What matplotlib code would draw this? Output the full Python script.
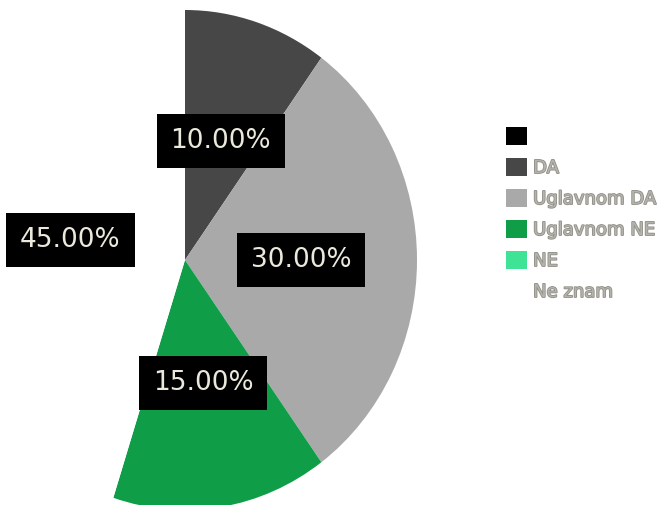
import matplotlib
matplotlib.use('Agg')
import matplotlib.pyplot as plt
import matplotlib.patheffects as pe

# kategorije i vrijednosti (postotci)
labels = ['', 'DA', 'Uglavnom DA', 'Uglavnom NE', 'NE', 'Ne znam']
values = [0, 10, 30, 15, 0, 45]
colors = ['#000000', '#474747', '#a9a9a9', '#0f9d48', '#3ee396', '#ffffff']


def pct(p):
    if p < 0.01:
        return ''
    return '%.2f%%' % p


fig = plt.figure(figsize=(6.63, 5.05), dpi=100)
# pie is slightly stretched vertically in the original
ax = fig.add_axes([-47 / 663, -5 / 505, 464 / 663, 500 / 505])

wedges, texts, autotexts = ax.pie(values, colors=colors, startangle=90,
                                  counterclock=False, autopct=pct,
                                  pctdistance=0.5,
                                  wedgeprops={'linewidth': 0})
for t in autotexts:
    t.set_color('#ebe8dc')
    t.set_fontsize(19)
    t.set_bbox({'facecolor': 'black', 'edgecolor': 'none', 'pad': 10})

ax.set_aspect('auto')
ax.set_xlim(-1, 1)
ax.set_ylim(-1, 1)

leg = fig.legend(wedges, labels, loc='upper left',
                 bbox_to_anchor=(506 / 663, 378 / 505), frameon=False,
                 fontsize=13, handlelength=1.15, handleheight=1.15,
                 handletextpad=0.35, labelspacing=0.66, borderpad=0,
                 borderaxespad=0)
for t in leg.get_texts():
    t.set_color('#b4b4ac')
    t.set_path_effects([pe.withStroke(linewidth=1.2, foreground='#8e8e86')])

plt.savefig('out.png', dpi=100)
plt.close()
